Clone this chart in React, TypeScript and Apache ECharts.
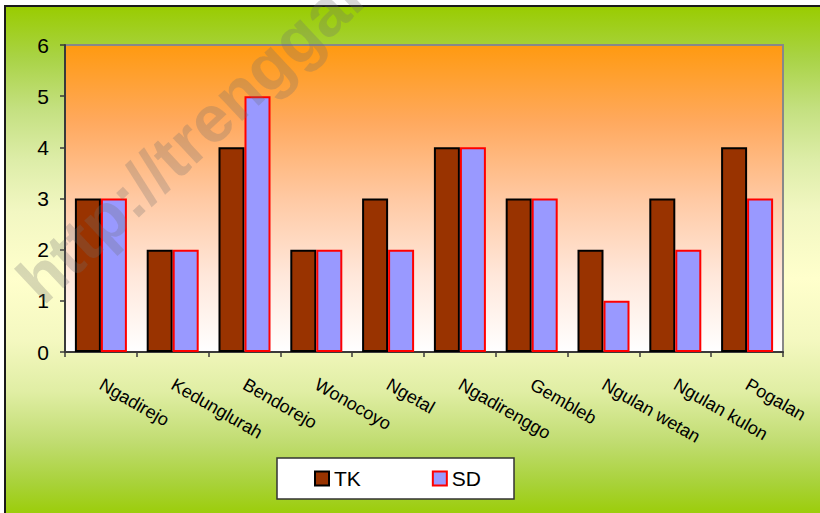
import React, { useEffect, useRef } from "react";
import * as echarts from "echarts";

const categories = [
  "Ngadirejo",
  "Kedunglurah",
  "Bendorejo",
  "Wonocoyo",
  "Ngetal",
  "Ngadirenggo",
  "Gembleb",
  "Ngulan wetan",
  "Ngulan kulon",
  "Pogalan",
];
const tkValues = [3, 2, 4, 2, 3, 4, 3, 2, 3, 4];
const sdValues = [3, 2, 5, 2, 2, 4, 3, 1, 2, 3];
const seriesNames = ["TK", "SD"];
const watermarkText = "http://trenggalek";

const FONT = "'Liberation Sans', Arial, sans-serif";

export default function App() {
  const ref = useRef<HTMLDivElement>(null);

  useEffect(() => {
    if (!ref.current) return;
    const chart = echarts.init(ref.current, null, { renderer: "svg" });

    const outerGradient = new echarts.graphic.LinearGradient(0, 0, 0, 1, [
      { offset: 0, color: "#99CC00" },
      { offset: 0.1, color: "#A9D345" },
      { offset: 0.2, color: "#C4E080" },
      { offset: 0.3, color: "#DDEDA8" },
      { offset: 0.4, color: "#F2F7C2" },
      { offset: 0.53, color: "#FFFFCC" },
      { offset: 0.65, color: "#F4F8C0" },
      { offset: 0.75, color: "#E0EEA4" },
      { offset: 0.85, color: "#C0DC70" },
      { offset: 0.93, color: "#A8D238" },
      { offset: 1, color: "#99CC00" },
    ]);

    const plotGradient = new echarts.graphic.LinearGradient(0, 0, 0, 1, [
      { offset: 0, color: "#FF9A10" },
      { offset: 0.25, color: "#FFA95E" },
      { offset: 0.5, color: "#FFC9A3" },
      { offset: 0.75, color: "#FFE7DA" },
      { offset: 1, color: "#FFFFFF" },
    ]);

    chart.setOption({
      animation: false,
      backgroundColor: "#FFFFFF",
      graphic: [
        {
          type: "rect",
          z: -10,
          zlevel: 0,
          silent: true,
          shape: { x: 5, y: 6, width: 900, height: 514 },
          style: { fill: outerGradient, stroke: "#1a1a1a", lineWidth: 2 },
        },
        {
          type: "text",
          z: 100,
          silent: true,
          x: 50,
          y: 314,
          rotation: (43 * Math.PI) / 180,
          style: {
            text: watermarkText,
            fill: "rgba(110,110,110,0.27)",
            font: "bold 66px 'Liberation Sans', Arial, sans-serif",
            textAlign: "left",
            textVerticalAlign: "bottom",
          },
        },
      ],
      grid: {
        left: 65,
        top: 45,
        width: 718,
        height: 307,
        show: true,
        backgroundColor: plotGradient,
        borderColor: "#888888",
        borderWidth: 2,
        containLabel: false,
      },
      legend: {
        left: 277,
        top: 458,
        orient: "horizontal",
        backgroundColor: "#FFFFFF",
        borderColor: "#333333",
        borderWidth: 1.5,
        borderRadius: 0,
        padding: [10, 33, 10, 37],
        itemGap: 71,
        itemWidth: 14,
        itemHeight: 14,
        icon: "rect",
        textStyle: { fontSize: 21, color: "#000", fontFamily: FONT },
        data: [
          {
            name: seriesNames[0],
            itemStyle: { color: "#993300", borderColor: "#000", borderWidth: 2 },
          },
          {
            name: seriesNames[1],
            itemStyle: { color: "#9999FF", borderColor: "#FF0000", borderWidth: 2 },
          },
        ],
      },
      xAxis: {
        type: "category",
        data: categories,
        boundaryGap: true,
        axisLine: { show: true, lineStyle: { color: "#3a3a3a", width: 2 } },
        axisTick: { show: true, length: 5, lineStyle: { color: "#3a3a3a", width: 1.5 } },
        axisLabel: {
          rotate: -30,
          margin: 31,
          fontSize: 18,
          color: "#000",
          fontFamily: FONT,
          interval: 0,
        },
        splitLine: { show: false },
      },
      yAxis: {
        type: "value",
        min: 0,
        max: 6,
        interval: 1,
        axisLine: { show: true, lineStyle: { color: "#3a3a3a", width: 2 } },
        axisTick: { show: true, length: 5, lineStyle: { color: "#3a3a3a", width: 1.5 } },
        axisLabel: { margin: 16, fontSize: 21, color: "#000", fontFamily: FONT },
        splitLine: { show: false },
      },
      series: [
        {
          name: seriesNames[0],
          type: "bar",
          data: tkValues,
          barWidth: 26,
          barGap: "0%",
          itemStyle: { color: "#993300", borderColor: "#000000", borderWidth: 2 },
        },
        {
          name: seriesNames[1],
          type: "bar",
          data: sdValues,
          barWidth: 26,
          barGap: "0%",
          itemStyle: { color: "#9999FF", borderColor: "#FF0000", borderWidth: 2 },
        },
      ],
    });

    return () => chart.dispose();
  }, []);

  return (
    <div
      ref={ref}
      style={{ position: "absolute", left: 0, top: 0, width: 820, height: 513 }}
    />
  );
}
